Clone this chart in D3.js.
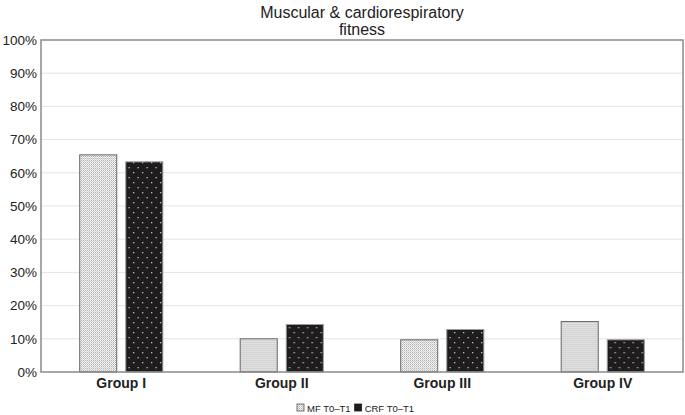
<!DOCTYPE html>
<html lang="en">
<head>
<meta charset="UTF-8">
<script src="https://d3js.org/d3.v7.min.js"></script>
<title>Muscular & cardiorespiratory fitness</title>
<style>
  body { margin: 0; background: #fff; }
  text { font-family: "Liberation Sans", Arial, sans-serif; }
</style>
</head>
<body>
<script>
  const groups = ["Group I", "Group II", "Group III", "Group IV"];
  const series = ["MF T0\u2013T1", "CRF T0\u2013T1"];
  const mfValues = [65.4, 10.0, 9.7, 15.2];
  const crfValues = [63.3, 14.3, 12.8, 9.7];
  const yTicks = [0, 10, 20, 30, 40, 50, 60, 70, 80, 90, 100];

  const width = 685, height = 415;
  const margin = { top: 40, right: 2, bottom: 43, left: 41 };

  const data = groups.map((g, i) => ({ group: g, values: [mfValues[i], crfValues[i]] }));

  const svg = d3.select("body").append("svg")
    .attr("width", width)
    .attr("height", height)
    .attr("viewBox", [0, 0, width, height]);

  // fill patterns
  const defs = svg.append("defs");
  const pMF = defs.append("pattern")
    .attr("id", "pmf").attr("patternUnits", "userSpaceOnUse")
    .attr("width", 2).attr("height", 2);
  pMF.append("rect").attr("width", 2).attr("height", 2).attr("fill", "#f4f4f4");
  pMF.append("rect").attr("width", 1).attr("height", 1).attr("fill", "#b0b0b0");
  pMF.append("rect").attr("x", 1).attr("y", 1).attr("width", 1).attr("height", 1).attr("fill", "#cdcdcd");

  const pCRF = defs.append("pattern")
    .attr("id", "pcrf").attr("patternUnits", "userSpaceOnUse")
    .attr("width", 9).attr("height", 10);
  pCRF.append("rect").attr("width", 9).attr("height", 10).attr("fill", "#1f1c1d");
  pCRF.append("rect").attr("x", 2).attr("y", 2).attr("width", 1.3).attr("height", 1.3).attr("fill", "#bdbdbd");
  pCRF.append("rect").attr("x", 6.5).attr("y", 7).attr("width", 1.3).attr("height", 1.3).attr("fill", "#bdbdbd");

  const fills = ["url(#pmf)", "url(#pcrf)"];
  const strokes = ["#666", "#999"];

  const x = d3.scaleBand()
    .domain(groups)
    .range([margin.left, width - margin.right])
    .paddingInner(0).paddingOuter(0);

  const x1 = d3.scaleBand()
    .domain([0, 1])
    .range([0, x.bandwidth()])
    .paddingInner(0.196)
    .paddingOuter(0.84);

  const y = d3.scaleLinear()
    .domain([0, 100])
    .range([height - margin.bottom, margin.top]);

  // gridlines
  svg.append("g")
    .selectAll("line")
    .data(yTicks.filter(t => t > 0 && t < 100))
    .join("line")
    .attr("x1", margin.left).attr("x2", width - margin.right)
    .attr("y1", d => y(d)).attr("y2", d => y(d))
    .attr("stroke", "#e4e4e4").attr("stroke-width", 1);

  // bars
  svg.append("g")
    .selectAll("g")
    .data(data)
    .join("g")
    .attr("transform", d => `translate(${x(d.group)},0)`)
    .selectAll("rect")
    .data(d => d.values.map((v, i) => ({ v, i })))
    .join("rect")
    .attr("x", d => x1(d.i))
    .attr("width", x1.bandwidth())
    .attr("y", d => y(d.v))
    .attr("height", d => y(0) - y(d.v))
    .attr("fill", d => fills[d.i])
    .attr("stroke", d => strokes[d.i])
    .attr("stroke-width", 1);

  // frame
  svg.append("rect")
    .attr("x", margin.left).attr("y", margin.top)
    .attr("width", width - margin.right - margin.left)
    .attr("height", height - margin.bottom - margin.top)
    .attr("fill", "none").attr("stroke", "#8a8a8a").attr("stroke-width", 1.5);

  // y axis
  const yAxis = svg.append("g")
    .attr("transform", `translate(${margin.left},0)`)
    .call(d3.axisLeft(y).tickValues(yTicks).tickSize(0).tickPadding(4).tickFormat(d => d + "%"));
  yAxis.select(".domain").remove();
  yAxis.selectAll("text")
    .attr("font-size", 13.5).attr("fill", "#222")
    .attr("font-family", "Liberation Sans, Arial, sans-serif");

  // x axis
  const xAxis = svg.append("g")
    .attr("transform", `translate(0,${height - margin.bottom})`)
    .call(d3.axisBottom(x).tickSize(0).tickPadding(6));
  xAxis.select(".domain").remove();
  xAxis.selectAll("text")
    .attr("font-size", 14).attr("font-weight", "bold").attr("fill", "#222")
    .attr("font-family", "Liberation Sans, Arial, sans-serif");

  // title
  svg.append("text")
    .attr("x", 362).attr("y", 18)
    .attr("text-anchor", "middle")
    .attr("font-size", 16).attr("fill", "#222")
    .text("Muscular & cardiorespiratory");
  svg.append("text")
    .attr("x", 362).attr("y", 35)
    .attr("text-anchor", "middle")
    .attr("font-size", 16).attr("fill", "#222")
    .text("fitness");

  // legend - items laid out one after another using measured text width
  const legend = svg.append("g").attr("transform", "translate(297,404)");
  let lx = 0;
  series.forEach((s, i) => {
    legend.append("rect")
      .attr("x", lx).attr("y", 0).attr("width", 7).attr("height", 7)
      .attr("fill", i === 0 ? "url(#pmf)" : "#1f1c1d")
      .attr("stroke", i === 0 ? "#555" : "#1f1c1d").attr("stroke-width", 0.8);
    const t = legend.append("text")
      .attr("x", lx + 10).attr("y", 7.5)
      .attr("font-size", 9.5).attr("fill", "#222")
      .text(s);
    lx += 10 + t.node().getComputedTextLength() + 4;
  });
</script>
</body>
</html>
